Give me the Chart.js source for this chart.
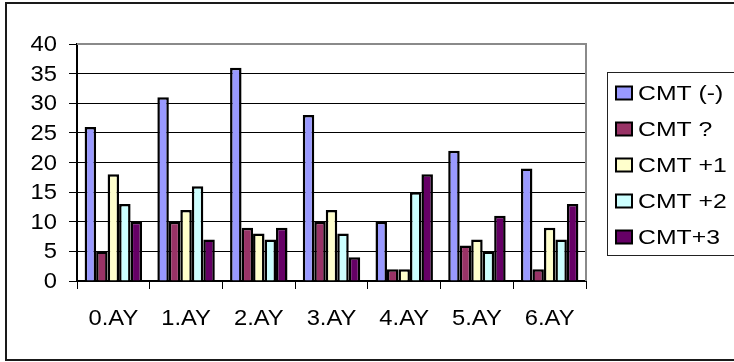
<!DOCTYPE html>
<html>
<head>
<meta charset="utf-8">
<script src="https://cdn.jsdelivr.net/npm/chart.js@4/dist/chart.umd.min.js"></script>
<style>
  html, body { margin: 0; padding: 0; background: #fff; }
  #wrap { width: 734px; height: 362px; position: relative; }
</style>
</head>
<body>
<div id="wrap"><canvas id="c" width="734" height="362"></canvas></div>
<script>
// Categories (year groups) and one array per series
const categories = ['0.AY', '1.AY', '2.AY', '3.AY', '4.AY', '5.AY', '6.AY'];
const seriesNames = ['CMT (-)', 'CMT ?', 'CMT +1', 'CMT +2', 'CMT+3'];
const cmtMinus = [26, 31, 36, 28, 10, 22, 19];
const cmtUnknown = [5, 10, 9, 10, 2, 6, 2];
const cmtPlus1 = [18, 12, 8, 12, 2, 7, 9];
const cmtPlus2 = [13, 16, 7, 8, 15, 5, 7];
const cmtPlus3 = [10, 7, 9, 4, 18, 11, 13];
const seriesColors = ['#9999FF', '#993366', '#FFFFCC', '#CCFFFF', '#660066'];

const FONT = '"Liberation Sans", Arial, sans-serif';

// Text drawn slightly widened horizontally (wide sans look)
function wideText(ctx, text, x, y, size, sx, align) {
  ctx.save();
  ctx.font = size + 'px ' + FONT;
  ctx.fillStyle = '#000';
  ctx.textBaseline = 'middle';
  ctx.textAlign = align;
  ctx.translate(x, y);
  ctx.scale(sx, 1);
  ctx.fillText(text, 0, 0);
  ctx.restore();
}

// Outer frame, plot border, axis labels and boxed legend on the right
const framePlugin = {
  id: 'frame',
  beforeDraw(chart) {
    const ctx = chart.ctx;
    ctx.save();
    ctx.fillStyle = '#fff';
    ctx.fillRect(0, 0, chart.width, chart.height);
    ctx.strokeStyle = '#1a1a1a';
    ctx.lineWidth = 2;
    ctx.strokeRect(6, 3, chart.width + 10, chart.height - 5);
    ctx.restore();
  },
  afterDatasetsDraw(chart) {
    const ctx = chart.ctx;
    const a = chart.chartArea;
    ctx.save();
    // top and right edge of the plot area
    ctx.strokeStyle = '#8a8a8a';
    ctx.lineWidth = 2;
    ctx.beginPath();
    ctx.moveTo(a.left, a.top);
    ctx.lineTo(a.right, a.top);
    ctx.lineTo(a.right, a.bottom);
    ctx.stroke();
    ctx.restore();

    // value axis labels
    const ys = chart.scales.y;
    ys.ticks.forEach((t, i) => {
      wideText(ctx, String(t.value), 57, ys.getPixelForTick(i) + 1, 22, 1.08, 'right');
    });
    // category labels
    const xs = chart.scales.x;
    chart.data.labels.forEach((lab, i) => {
      wideText(ctx, lab, xs.getPixelForTick(i), 319, 22, 1.08, 'center');
    });

    // legend box
    ctx.save();
    const lx = 607, ly = 72, lh = 183;
    ctx.strokeStyle = '#222';
    ctx.lineWidth = 1;
    ctx.strokeRect(lx + 0.5, ly + 0.5, 200, lh);
    chart.data.datasets.forEach((ds, i) => {
      const cy = 93 + i * 36;
      ctx.fillStyle = ds.backgroundColor;
      ctx.fillRect(616, cy - 6.5, 16, 13);
      ctx.strokeStyle = '#000';
      ctx.lineWidth = 2;
      ctx.strokeRect(616, cy - 6.5, 16, 13);
      wideText(ctx, ds.label, 638, cy + 1, 21, 1.18, 'left');
    });
    ctx.restore();
  }
};

const seriesValues = [cmtMinus, cmtUnknown, cmtPlus1, cmtPlus2, cmtPlus3];

new Chart(document.getElementById('c'), {
  type: 'bar',
  data: {
    labels: categories,
    datasets: seriesValues.map((vals, i) => ({
      label: seriesNames[i],
      data: vals,
      backgroundColor: seriesColors[i],
      borderColor: '#000',
      borderWidth: 2.5,
      borderSkipped: 'start',
      categoryPercentage: 0.79,
      barPercentage: 1.0
    }))
  },
  options: {
    responsive: false,
    devicePixelRatio: 1,
    animation: false,
    events: [],
    layout: { padding: { top: 44, right: 148, left: 0, bottom: 0 } },
    plugins: {
      legend: { display: false },
      tooltip: { enabled: false },
      title: { display: false }
    },
    scales: {
      x: {
        offset: true,
        grid: {
          display: true,
          drawOnChartArea: false,
          drawTicks: true,
          tickLength: 8,
          color: '#000',
          lineWidth: 1,
          offset: true
        },
        border: { display: true, color: '#000', width: 2 },
        ticks: { display: false, autoSkip: false, maxRotation: 0 },
        afterFit(scale) { scale.height = 81; }
      },
      y: {
        min: 0,
        max: 40,
        ticks: { display: false, stepSize: 5 },
        grid: {
          color: '#000',
          lineWidth: 1,
          drawTicks: true,
          tickLength: 8
        },
        border: { display: true, color: '#000', width: 2 },
        afterFit(scale) { scale.width = 77; }
      }
    }
  },
  plugins: [framePlugin]
});
</script>
</body>
</html>
